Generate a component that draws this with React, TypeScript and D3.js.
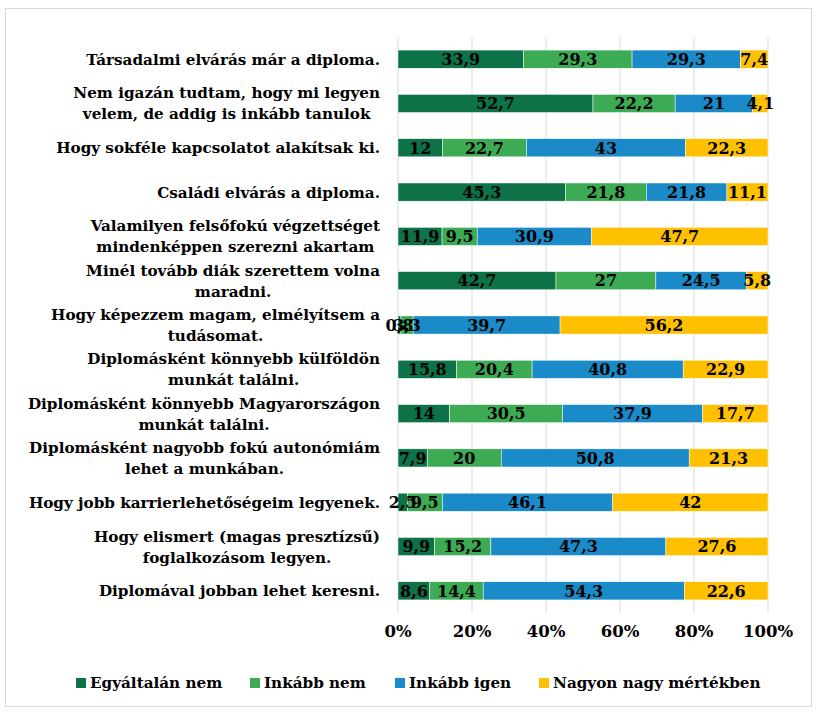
import * as d3 from "d3";
import { useEffect, useRef } from "react";

// category labels, top to bottom (line breaks as in the original)
const categories: string[][] = [
  ["Társadalmi elvárás már a diploma."],
  ["Nem igazán tudtam, hogy mi legyen", "velem, de addig is inkább tanulok"],
  ["Hogy sokféle kapcsolatot alakítsak ki."],
  ["Családi elvárás a diploma."],
  ["Valamilyen felsőfokú végzettséget", "mindenképpen szerezni akartam"],
  ["Minél tovább diák szerettem volna", "maradni."],
  ["Hogy képezzem magam, elmélyítsem a", "tudásomat."],
  ["Diplomásként könnyebb külföldön", "munkát találni."],
  ["Diplomásként könnyebb Magyarországon", "munkát találni."],
  ["Diplomásként nagyobb fokú autonómiám", "lehet a munkában."],
  ["Hogy jobb karrierlehetőségeim legyenek."],
  ["Hogy elismert (magas presztízsű)", "foglalkozásom legyen."],
  ["Diplomával jobban lehet keresni."],
];

const seriesNames = ["Egyáltalán nem", "Inkább nem", "Inkább igen", "Nagyon nagy mértékben"];
const seriesColors = ["#0E7248", "#3DAB54", "#1A8BC8", "#FFC000"];

const egyaltalanNem = [33.9, 52.7, 12, 45.3, 11.9, 42.7, 0.8, 15.8, 14, 7.9, 2.5, 9.9, 8.6];
const inkabbNem = [29.3, 22.2, 22.7, 21.8, 9.5, 27, 3.3, 20.4, 30.5, 20, 9.5, 15.2, 14.4];
const inkabbIgen = [29.3, 21, 43, 21.8, 30.9, 24.5, 39.7, 40.8, 37.9, 50.8, 46.1, 47.3, 54.3];
const nagyon = [7.4, 4.1, 22.3, 11.1, 47.7, 5.8, 56.2, 22.9, 17.7, 21.3, 42, 27.6, 22.6];

const xTicks = [0, 0.2, 0.4, 0.6, 0.8, 1];

const FONT = "'DejaVu Serif', serif";

const App = () => {
  const ref = useRef<SVGSVGElement>(null);

  useEffect(() => {
    const svg = d3.select(ref.current);
    svg.selectAll("*").remove();

    const margin = { top: 37, left: 398 };
    const width = 370;
    const height = 576;

    // chart border
    svg
      .append("rect")
      .attr("x", 5.5)
      .attr("y", 8.5)
      .attr("width", 806)
      .attr("height", 698)
      .attr("fill", "white")
      .attr("stroke", "#d9d9d9");

    const g = svg.append("g").attr("transform", `translate(${margin.left},${margin.top})`);

    const rows = categories.map((c, i) => {
      const vals = [egyaltalanNem[i], inkabbNem[i], inkabbIgen[i], nagyon[i]];
      return { key: String(i), lines: c, vals, total: d3.sum(vals) };
    });

    const x = d3.scaleLinear().domain([0, 1]).range([0, width]);
    const y = d3
      .scaleBand()
      .domain(rows.map((r) => r.key))
      .range([0, height])
      .paddingInner(0.59)
      .paddingOuter(0.295);

    // gridlines
    g.selectAll(".grid")
      .data(xTicks)
      .join("line")
      .attr("x1", (d) => x(d))
      .attr("x2", (d) => x(d))
      .attr("y1", 0)
      .attr("y2", height)
      .attr("stroke", "#d9d9d9")
      .attr("stroke-width", 1);

    // x axis labels
    g.selectAll(".xtick")
      .data(xTicks)
      .join("text")
      .attr("x", (d) => x(d))
      .attr("y", height + 24)
      .attr("text-anchor", "middle")
      .attr("font-family", FONT)
      .attr("font-weight", "bold")
      .attr("font-size", 16.5)
      .text((d) => d3.format(".0%")(d));

    // stacked segments
    const segs = rows.flatMap((r) => {
      let acc = 0;
      return r.vals.map((v, s) => {
        const x0 = acc / r.total;
        acc += v;
        return { row: r.key, s, v, x0, x1: acc / r.total };
      });
    });

    g.selectAll(".seg")
      .data(segs)
      .join("rect")
      .attr("x", (d) => x(d.x0))
      .attr("y", (d) => y(d.row)!)
      .attr("width", (d) => x(d.x1) - x(d.x0))
      .attr("height", y.bandwidth())
      .attr("fill", (d) => seriesColors[d.s])
      .attr("stroke", "white")
      .attr("stroke-width", 0.5);

    g.selectAll(".val")
      .data(segs)
      .join("text")
      .attr("x", (d) => (x(d.x0) + x(d.x1)) / 2)
      .attr("y", (d) => y(d.row)! + y.bandwidth() / 2)
      .attr("dy", "0.36em")
      .attr("text-anchor", "middle")
      .attr("font-family", FONT)
      .attr("font-weight", "bold")
      .attr("font-size", 16)
      .attr("fill", "black")
      .text((d) => String(d.v).replace(".", ","));

    // category labels: block right aligned, lines centered to each other
    const lineH = 21;
    const labelRight = -18;
    rows.forEach((r) => {
      const cy = y(r.key)! + y.bandwidth() / 2;
      const tg = g.append("g");
      const texts = tg
        .selectAll("text")
        .data(r.lines)
        .join("text")
        .attr("y", (_, i) => cy + (i - (r.lines.length - 1) / 2) * lineH)
        .attr("dy", "0.36em")
        .attr("font-family", FONT)
        .attr("font-weight", "bold")
        .attr("font-size", 15.2)
        .attr("text-anchor", "middle")
        .text((d) => d);
      let maxW = 0;
      texts.each(function () {
        maxW = Math.max(maxW, (this as SVGTextElement).getComputedTextLength());
      });
      texts.attr("x", labelRight - maxW / 2);
    });

    // legend
    const legend = svg.append("g").attr("transform", "translate(0,683)");
    const legendX = [76, 250, 395, 539];
    seriesNames.forEach((name, i) => {
      const lg = legend.append("g").attr("transform", `translate(${legendX[i]},0)`);
      lg.append("rect")
        .attr("x", 0)
        .attr("y", -5)
        .attr("width", 10)
        .attr("height", 10)
        .attr("fill", seriesColors[i]);
      lg.append("text")
        .attr("x", 14)
        .attr("dy", "0.36em")
        .attr("font-family", FONT)
        .attr("font-weight", "bold")
        .attr("font-size", 15.2)
        .text(name);
    });
  }, []);

  return (
    <svg
      ref={ref}
      width={817}
      height={712}
      style={{ position: "absolute", left: 0, top: 0, background: "white" }}
    />
  );
};

export default App;
